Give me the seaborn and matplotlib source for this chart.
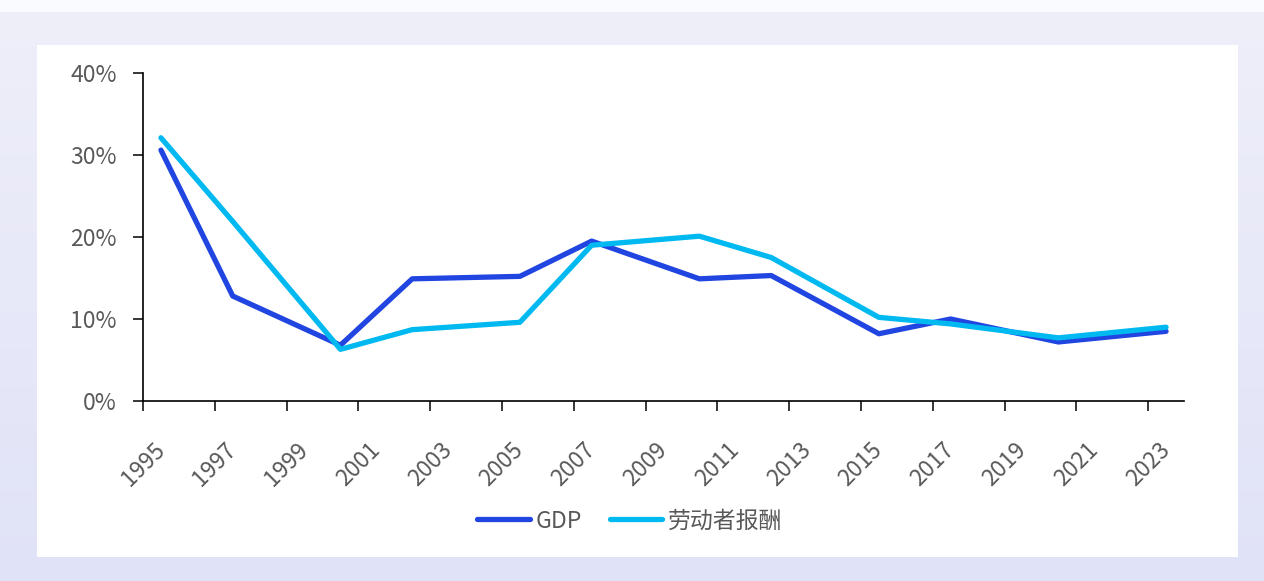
import numpy as np
import pandas as pd
import matplotlib
matplotlib.use("Agg")
import matplotlib.pyplot as plt
from matplotlib.patches import Rectangle
import seaborn as sns

# data (growth rate, %), survey years
YEARS = [1995, 1997, 2000, 2002, 2005, 2007, 2010, 2012, 2015, 2017, 2020, 2023]
GDP = [30.6, 12.8, 6.8, 14.9, 15.2, 19.5, 14.9, 15.3, 8.2, 10.0, 7.2, 8.5]
LABOR = [32.1, 21.9, 6.3, 8.7, 9.6, 19.0, 20.1, 17.5, 10.2, 9.4, 7.7, 9.0]
SERIES = ["GDP", "劳动者报酬"]
COLORS = ["#2145E1", "#00B9F1"]
X_TICKS = list(range(1995, 2024, 2))
Y_TICKS = [0, 10, 20, 30, 40]

sns.set_style("white")
plt.rcParams['font.family'] = ['Noto Sans CJK SC', 'DejaVu Sans']
plt.rcParams['axes.unicode_minus'] = False

df = pd.DataFrame({
    'x': np.array(YEARS * 2) + 0.5,   # points sit mid-year on the date axis
    'value': GDP + LABOR,
    'series': [SERIES[0]] * len(YEARS) + [SERIES[1]] * len(YEARS),
})

fig = plt.figure(figsize=(12.64, 5.81), dpi=100)

# lavender gradient background + white card
bg = fig.add_axes([0, 0, 1, 1], zorder=-10)
grad = np.linspace(0, 1, 256).reshape(-1, 1)
c_top = np.array([0xEF, 0xEF, 0xFA]) / 255
c_bot = np.array([0xE0, 0xE2, 0xF7]) / 255
img = c_top + (c_bot - c_top) * grad[..., None]
bg.imshow(img, aspect='auto', extent=[0, 1, 0, 1], origin='upper')
bg.add_patch(Rectangle((0, 1 - 12 / 581), 1, 12 / 581, color="#FAFBFF", lw=0))
bg.add_patch(Rectangle((37 / 1264, 1 - 557 / 581), (1238 - 37) / 1264, (557 - 45) / 581,
                       color="white", lw=0))
bg.set_xlim(0, 1)
bg.set_ylim(0, 1)
bg.axis('off')

ax = fig.add_axes([143 / 1264, 1 - 401 / 581, (1184 - 143) / 1264, (401 - 73) / 581])
ax.set_facecolor('none')

sns.lineplot(data=df, x='x', y='value', hue='series', hue_order=SERIES,
             palette=COLORS, linewidth=3.8, ax=ax, legend=False,
             solid_capstyle='round', solid_joinstyle='round')

ax.set_xlim(1995, 2024)
ax.set_ylim(0, 40)
ax.set_xticks(X_TICKS)
ax.set_xticklabels([str(y) for y in X_TICKS], rotation=45)
ax.set_yticks(Y_TICKS)
ax.set_yticklabels([f"{v}%" for v in Y_TICKS])
ax.set_xlabel("")
ax.set_ylabel("")

for s in ['top', 'right']:
    ax.spines[s].set_visible(False)
for s in ['left', 'bottom']:
    ax.spines[s].set_color('black')
    ax.spines[s].set_linewidth(1.2)

ax.tick_params(axis='both', which='major', direction='out', length=7, width=1.1,
               color='black', labelsize=16.5, labelcolor='#595959', left=True, bottom=True)
ax.tick_params(axis='y', pad=12)
ax.tick_params(axis='x', pad=20)

handles = [plt.Line2D([], [], color=c, lw=3.8, solid_capstyle='round') for c in COLORS]
fig.legend(handles, SERIES, loc='center', bbox_to_anchor=(630 / 1264, 1 - 521 / 581),
           ncol=2, frameon=False, fontsize=16.5, labelcolor='#595959',
           handlelength=2.3, handletextpad=0.25, columnspacing=1.2)

fig.savefig("out.png", dpi=100)
